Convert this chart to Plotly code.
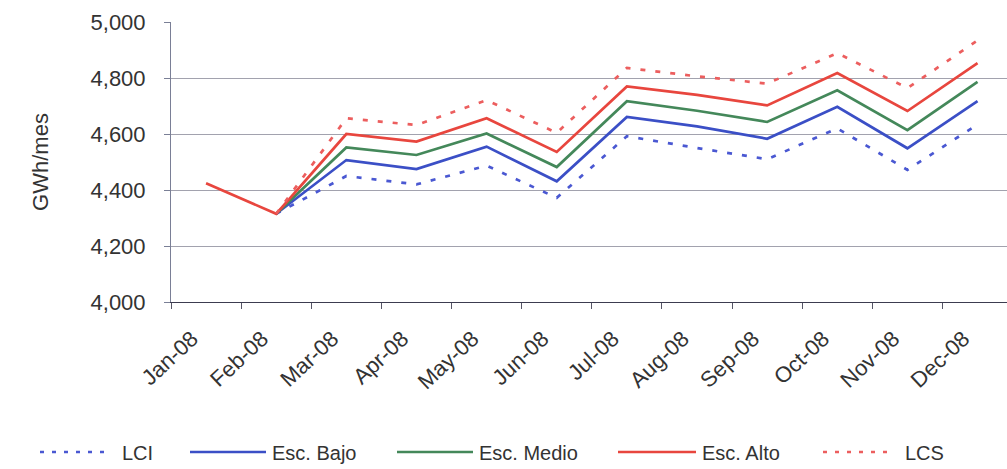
import plotly.graph_objects as go

months = ["Jan-08", "Feb-08", "Mar-08", "Apr-08", "May-08", "Jun-08",
          "Jul-08", "Aug-08", "Sep-08", "Oct-08", "Nov-08", "Dec-08"]

# GWh per month; None where a series has no value
lci = [None, 4315, 4450, 4420, 4487, 4372, 4592, 4550, 4510, 4620, 4472, 4634]
esc_bajo = [None, 4315, 4507, 4475, 4555, 4431, 4661, 4627, 4583, 4697, 4549, 4717]
esc_medio = [None, 4315, 4552, 4525, 4602, 4482, 4717, 4683, 4643, 4756, 4614, 4786]
esc_alto = [4424, 4315, 4600, 4573, 4656, 4536, 4770, 4740, 4702, 4818, 4682, 4853]
lcs = [None, 4315, 4656, 4632, 4721, 4604, 4836, 4806, 4780, 4889, 4764, 4934]

y_ticks = [4000, 4200, 4400, 4600, 4800, 5000]

W, H = 1007, 469
ML, MR, MT, MB = 171, 0, 22, 167
PW, PH = W - ML - MR, H - MT - MB

BLUE = "#3b4fc6"
GREEN = "#44885a"
RED = "#e8463e"
LCI_C = "#4a58d2"
LCS_C = "#ec5e5e"
DOTS = "5px,10px"
FONT = "Liberation Sans, Arial, sans-serif"

series = [
    ("LCI", lci, LCI_C, DOTS),
    ("Esc. Bajo", esc_bajo, BLUE, "solid"),
    ("Esc. Medio", esc_medio, GREEN, "solid"),
    ("Esc. Alto", esc_alto, RED, "solid"),
    ("LCS", lcs, LCS_C, DOTS),
]

fig = go.Figure()
for name, vals, color, dash in series:
    fig.add_trace(go.Scatter(
        x=months, y=vals, name=name, mode="lines",
        line=dict(color=color, width=2.7, dash=dash),
        connectgaps=False, showlegend=False,
    ))

fig.update_layout(
    width=W, height=H,
    margin=dict(l=ML, r=MR, t=MT, b=MB, pad=0),
    paper_bgcolor="white", plot_bgcolor="white",
    font=dict(family=FONT, size=21, color="#333333"),
)

fig.update_xaxes(
    type="category", range=[-0.5, 11.42],
    tickangle=-43, tickson="boundaries",
    ticks="outside", ticklen=6, tickcolor="#555566",
    ticklabelstandoff=14, ticklabelshift=-14,
    showline=True, linecolor="#3c3c50", linewidth=1.2,
    showgrid=False, zeroline=False,
    tickfont=dict(family=FONT, size=22, color="#333333"),
)

fig.update_yaxes(
    range=[4000, 5000], tickvals=y_ticks,
    ticktext=[f"{v:,}" for v in y_ticks],
    ticks="outside", ticklen=6, tickcolor="#7a7f96",
    showline=True, linecolor="#7a7f96", linewidth=1,
    showgrid=True, gridcolor="#a2a2ae", gridwidth=1,
    zeroline=False, ticklabelstandoff=14,
    tickfont=dict(family=FONT, size=22, color="#333333"),
    title=dict(text="GWh/mes", standoff=35,
               font=dict(family=FONT, size=22, color="#333333")),
)

# Legend row drawn below the axis labels
def px_x(px):
    return (px - ML) / PW

def px_y(py):
    return (H - MB - py) / PH

legend_items = [
    ("LCI", LCI_C, "dot", 40, 107, 120),
    ("Esc. Bajo", BLUE, "solid", 190, 266, 270),
    ("Esc. Medio", GREEN, "solid", 397, 473, 477),
    ("Esc. Alto", RED, "solid", 618, 696, 700),
    ("LCS", LCS_C, "dot", 823, 890, 903),
]
LEG_Y = 452
for label, color, dash, x0, x1, tx in legend_items:
    fig.add_shape(
        type="line", xref="paper", yref="paper",
        x0=px_x(x0), x1=px_x(x1), y0=px_y(LEG_Y), y1=px_y(LEG_Y),
        line=dict(color=color, width=2.6, dash="4px,8px" if dash == "dot" else "solid"),
    )
    fig.add_annotation(
        xref="paper", yref="paper", x=px_x(tx), y=px_y(LEG_Y + 1),
        text=label, showarrow=False, xanchor="left", yanchor="middle",
        font=dict(family=FONT, size=20, color="#333333"),
    )

fig.write_html("out.html")
